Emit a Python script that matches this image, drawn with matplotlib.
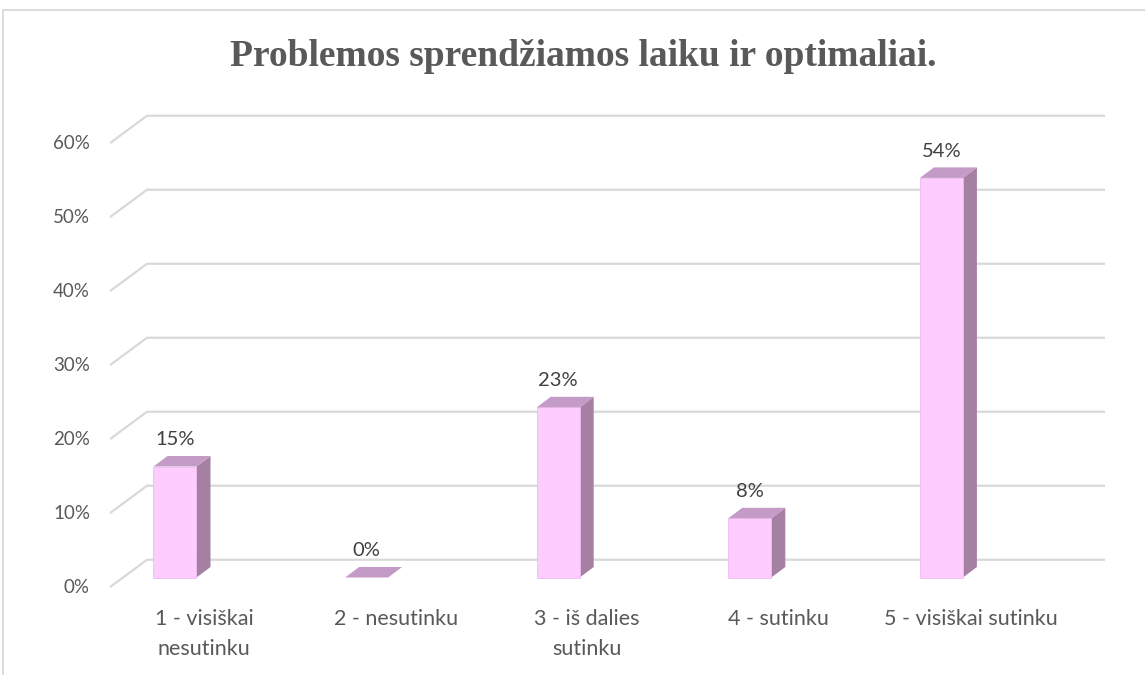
import numpy as np
import matplotlib.pyplot as plt
from matplotlib.patches import Polygon, Rectangle

# data
categories = ['1 - visiškai\nnesutinku', '2 - nesutinku', '3 - iš dalies\nsutinku',
              '4 - sutinku', '5 - visiškai sutinku']
values = [15, 0, 23, 8, 54]
ticks = [0, 10, 20, 30, 40, 50, 60]
title = 'Problemos sprendžiamos laiku ir optimaliai.'

W, H = 1145, 675
fig = plt.figure(figsize=(W / 100, H / 100), dpi=100)
ax = fig.add_axes([0, 0, 1, 1])
ax.axis('off')

# pixel mapping: category i -> x px = 175 + 191.6*i ; value v -> y px = 577.5 - 7.4*v
sx, x0 = 191.6, 175
sy, y0 = 7.4, 577.5
ax.set_xlim((0 - x0) / sx, (W - x0) / sx)
ax.set_ylim((y0 - H) / sy, (y0 - 0) / sy)

# outer border of the chart area
fig.patches.append(Rectangle((3 / W, -0.1), 1.2, 1 - 10 / H + 0.1, transform=fig.transFigure,
                             fill=False, edgecolor='#d9d9d9', linewidth=1.3))

# gridlines (3d floor effect)
fx, bx, ex = (110 - x0) / sx, (147 - x0) / sx, (1105 - x0) / sx
back_off, front_off = 2.4, -1.3
for t in ticks:
    ax.plot([fx, bx, ex], [t + front_off, t + back_off, t + back_off],
            color='#d9d9d9', linewidth=1.6, solid_capstyle='butt', zorder=1)
    ax.text((90 - x0) / sx, t + front_off, f'{t}%', ha='right', va='center',
            fontsize=13.5, color='#595959', family='Lato')

# bars
hw = 21.5 / sx
ddx = 14 / sx
ddy = 10.5 / sy
front_c, top_c, side_c = '#ffccff', '#c49bc7', '#a580a3'
for i, v in enumerate(values):
    l, r = i - hw, i + hw
    if v > 0:
        ax.add_patch(Polygon([(r, 0), (r + ddx, ddy), (r + ddx, v + ddy), (r, v)],
                             closed=True, facecolor=side_c, edgecolor='none', zorder=3))
        ax.add_patch(Polygon([(l, 0), (r, 0), (r, v), (l, v)], closed=True,
                             facecolor=front_c, edgecolor='#f0b8f0', linewidth=0.6, zorder=4))
    ax.add_patch(Polygon([(l, v), (r, v), (r + ddx, v + ddy), (l + ddx, v + ddy)],
                         closed=True, facecolor=top_c, edgecolor='none', zorder=4))
    ax.text(i, v + ddy + 16 / sy, f'{v}%', ha='center', va='center',
            fontsize=14.5, color='#404040', family='Lato', zorder=5)
    ax.text(i + 29 / sx, (y0 - 609) / sy, categories[i], ha='center', va='top',
            fontsize=15.5, color='#595959', family='Lato', linespacing=1.6)

fig.text(583 / W, 1 - 57 / H, title, ha='center', va='center', fontsize=27,
         fontweight='bold', family='Liberation Serif', color='#595959')

fig.savefig('out.png', dpi=100, facecolor='white')
